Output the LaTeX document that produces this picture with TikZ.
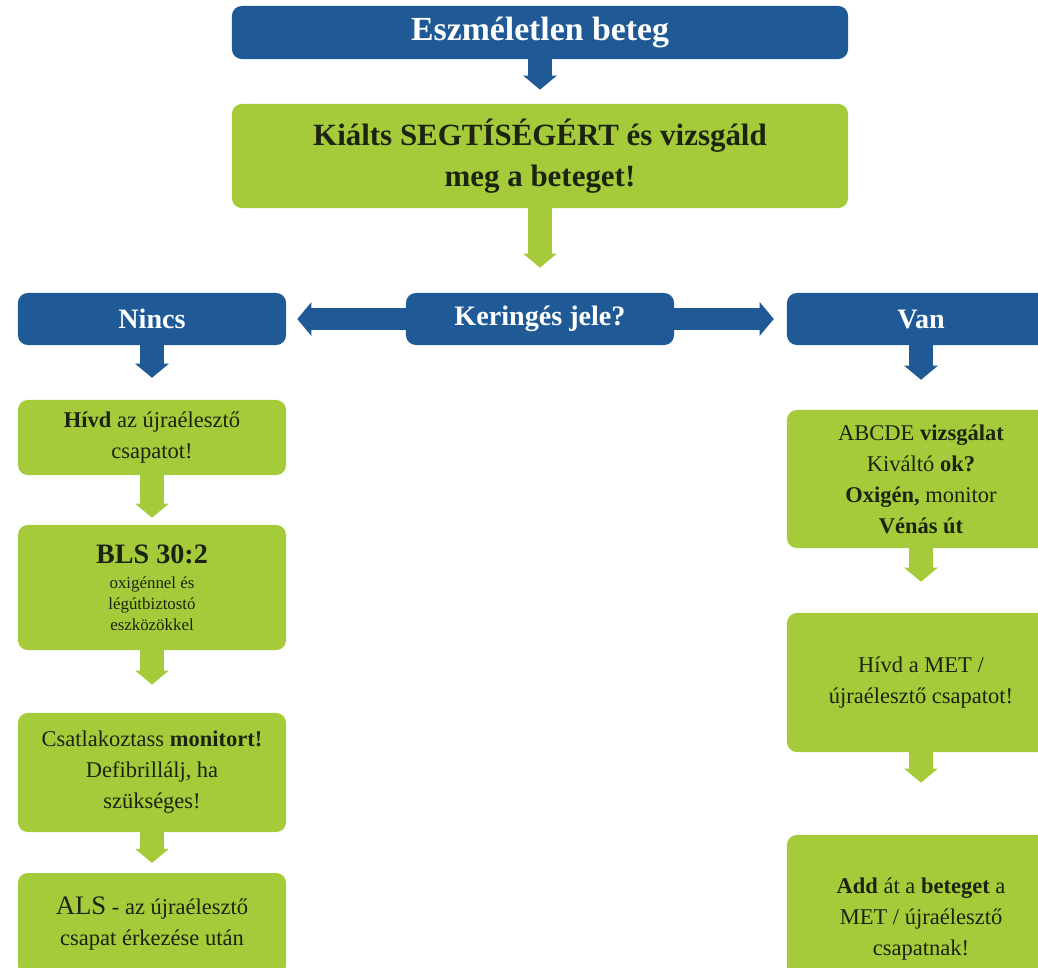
\documentclass[tikz,border=0pt]{standalone}
\usepackage{fontspec}
\setmainfont{Liberation Serif}
\usetikzlibrary{arrows.meta,positioning}
\definecolor{nblue}{HTML}{1F5A96}
\definecolor{lgreen}{HTML}{A5CB3A}
\definecolor{dtext}{HTML}{1C2410}
\newcommand\smalltxt{\fontsize{12}{15}\selectfont}

\begin{document}
\begin{tikzpicture}[
  x=0.025cm, y=-0.025cm,
  bbox/.style={rectangle, fill=nblue, rounded corners=7pt, minimum width=6.7cm, minimum height=1.3cm, align=center, text=white, font=\bfseries\fontsize{20}{24}\selectfont},
  gbox/.style={rectangle, fill=lgreen, rounded corners=7pt, minimum width=6.7cm, align=center, text=dtext, font=\fontsize{16}{22}\selectfont},
  flow/.style={draw=#1, line width=17pt, -{Triangle[width=24pt,length=10pt,line width=0pt]}}
]
  \useasboundingbox (0,0) rectangle (1038,967);
  % top of the chart
  \node[bbox, minimum width=15.4cm, minimum height=1.325cm, font=\bfseries\fontsize{24}{28}\selectfont] (unconscious) at (540,32.5) {Eszméletlen beteg};
  \node[gbox, minimum width=15.4cm, minimum height=2.6cm, font=\bfseries\fontsize{22}{29}\selectfont] (shout) at (540,156) {Kiálts SEGTÍSÉGÉRT és vizsgáld\\meg a beteget!};
  % decision row
  \node[bbox] (none) at (152,319) {Nincs};
  \node[bbox] (circ) at (540,319) {Keringés jele?};
  \node[bbox] (present) at (921,319) {Van};
  % left column
  \node[gbox, minimum height=1.875cm] (call) at (152,437.5) {{\bfseries Hívd} az újraélesztő\\csapatot!};
  \node[gbox, minimum height=3.125cm] (bls) at (152,587.5) {{\bfseries\fontsize{20}{22}\selectfont BLS 30:2}\\[-4pt]\smalltxt oxigénnel és\\[-7pt]\smalltxt légútbiztostó\\[-7pt]\smalltxt eszközökkel};
  \node[gbox, minimum height=2.975cm] (monitor) at (152,772.5) {Csatlakoztass {\bfseries monitort!}\\Defibrillálj, ha\\szükséges!};
  \node[gbox, minimum height=2.55cm] (als) at (152,924) {{\fontsize{19}{22}\selectfont ALS} - az újraélesztő\\csapat érkezése után};
  % right column
  \node[gbox, minimum height=3.45cm] (abcde) at (921,479) {ABCDE {\bfseries vizsgálat}\\Kiváltó {\bfseries ok?}\\{\bfseries Oxigén,} monitor\\{\bfseries Vénás út}};
  \node[gbox, minimum height=3.475cm] (met) at (921,682.5) {Hívd a MET /\\újraélesztő csapatot!};
  \node[gbox, minimum height=4.2cm] (handover) at (921,919) {{\bfseries Add} át a {\bfseries beteget} a\\MET / újraélesztő\\csapatnak!};
  % block arrows
  \draw[flow=nblue, shorten >=10pt] (unconscious) -- (shout);
  \draw[flow=lgreen, shorten >=17.8pt] (shout) -- (circ);
  \draw[flow=nblue, line width=15pt, shorten >=7.8pt] (circ) -- (none);
  \draw[flow=nblue, line width=15pt, shorten >=9.2pt] (circ) -- (present);
  \draw[flow=nblue, shorten >=15.6pt] (none) -- (call);
  \draw[flow=nblue, shorten >=21.3pt] (present) -- (abcde);
  \draw[flow=lgreen, shorten >=5pt] (call) -- (bls);
  \draw[flow=lgreen, shorten >=20pt] (bls) -- (monitor);
  \draw[flow=lgreen, shorten >=7pt] (monitor) -- (als);
  \draw[flow=lgreen, shorten >=22pt] (abcde) -- (met);
  \draw[flow=lgreen, shorten >=37pt] (met) -- (handover);
\end{tikzpicture}
\end{document}
